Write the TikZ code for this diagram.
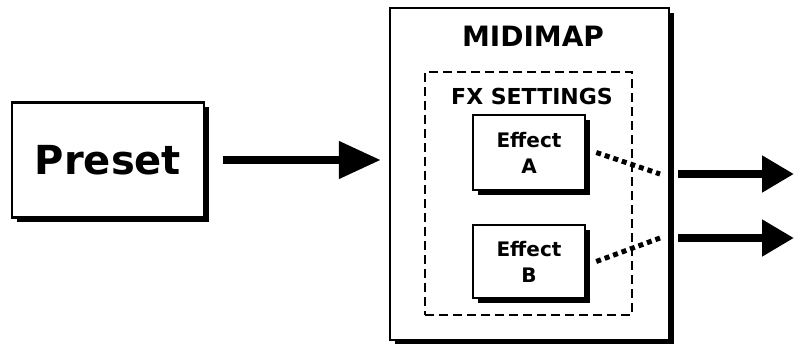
\documentclass[tikz,border=0pt]{standalone}
\usepackage{fontspec}
\setmainfont{DejaVu Sans}
\usetikzlibrary{shadows, arrows.meta}
\tikzset{
    every node/.style = {font=\bfseries, inner sep=0pt},
    unit box/.style = {draw, line width=2.5pt, fill=white,
        drop shadow={shadow xshift=5pt, shadow yshift=-5pt, fill=black, opacity=1}},
    fx frame/.style = {draw, line width=2pt, dash pattern=on 9pt off 5pt},
    fx link/.style = {line width=5pt, dash pattern=on 5pt off 4pt},
    signal/.style = {line width=8pt, -{Triangle[length=42pt, width=36pt]}},
    signal out/.style = {line width=8pt, -{Triangle[length=32pt, width=35pt]}}
}

\begin{document}
\begin{tikzpicture}[x=1pt, y=-1pt]
    \useasboundingbox (0,0) rectangle (794,344);
    % source
    \node[unit box, minimum width=192pt, minimum height=115pt,
        font=\fontsize{40}{40}\bfseries] (preset) at (108,160) {Preset};
    % midi map with its fx settings
    \node[unit box, minimum width=279pt, minimum height=332pt] (midimap) at (529.5,174) {};
    \node[font=\fontsize{28}{28}\bfseries] (midimaptitle) at (533,36) {MIDIMAP};
    \node[fx frame, minimum width=207pt, minimum height=243pt] (fxframe) at (528.5,193.5) {};
    \node[font=\fontsize{22}{22}\bfseries] (fxtitle) at (532,96) {FX SETTINGS};
    \node[unit box, align=center, minimum width=112pt, minimum height=75pt,
        font=\fontsize{20}{26}\bfseries] (effA) at (529,152.5) {Effect\\A};
    \node[unit box, align=center, minimum width=112pt, minimum height=73pt,
        font=\fontsize{20}{26}\bfseries] (effB) at (529,261.5) {Effect\\B};
    % outputs
    \coordinate (portA) at (678,174);
    \coordinate (portB) at (678,238);
    \coordinate (outA) at (794,174);
    \coordinate (outB) at (794,238);

    \draw[signal] ([xshift=18pt]preset.east) -- ([xshift=-8pt]midimap.west |- preset.east);
    \draw[fx link] ([xshift=10pt]effA.east) -- ([xshift=-18pt]portA);
    \draw[fx link] ([xshift=10pt]effB.east) -- ([xshift=-18pt]portB);
    \draw[signal out] (portA) -- (outA);
    \draw[signal out] (portB) -- (outB);
\end{tikzpicture}
\end{document}
